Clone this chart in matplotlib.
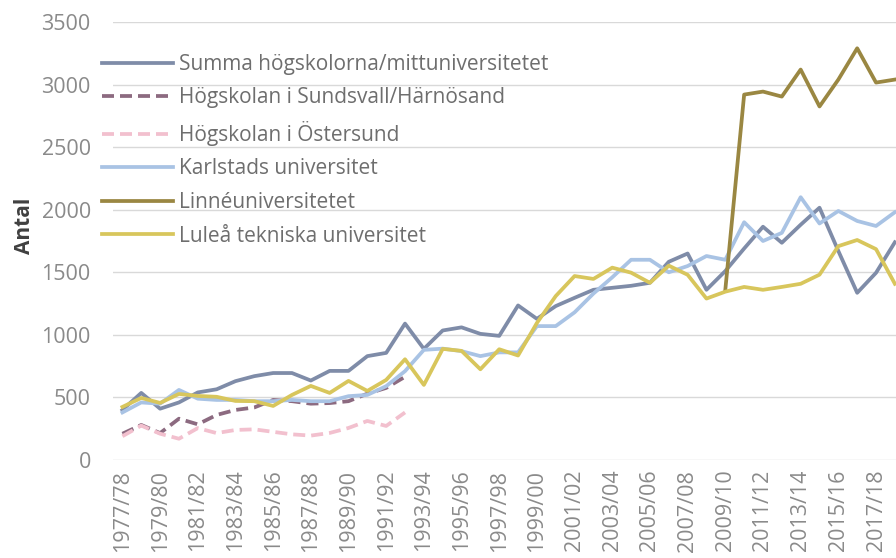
import numpy as np
import matplotlib
matplotlib.use("Agg")
import matplotlib.pyplot as plt

years = ["1977/78", "1978/79", "1979/80", "1980/81", "1981/82", "1982/83", "1983/84",
         "1984/85", "1985/86", "1986/87", "1987/88", "1988/89", "1989/90", "1990/91",
         "1991/92", "1992/93", "1993/94", "1994/95", "1995/96", "1996/97", "1997/98",
         "1998/99", "1999/00", "2000/01", "2001/02", "2002/03", "2003/04", "2004/05",
         "2005/06", "2006/07", "2007/08", "2008/09", "2009/10", "2010/11", "2011/12",
         "2012/13", "2013/14", "2014/15", "2015/16", "2016/17", "2017/18", "2018/19"]

summa = [400, 536, 410, 460, 540, 565, 630, 670, 695, 695, 635, 712, 712, 830, 856,
         1090, 888, 1035, 1060, 1008, 992, 1235, 1128, 1230, 1296, 1360, 1376, 1392,
         1416, 1584, 1650, 1360, 1510, 1690, 1864, 1736, 1880, 2016, 1670, 1336, 1496, 1740]
sundsvall = [210, 280, 215, 330, 285, 360, 400, 420, 480, 470, 450, 455, 470, 530, 576, 665]
ostersund = [190, 275, 210, 170, 255, 215, 240, 245, 225, 205, 195, 216, 256, 312, 272, 380]
karlstad = [380, 460, 450, 560, 490, 480, 480, 470, 470, 480, 470, 470, 510, 520, 590,
            710, 880, 890, 870, 830, 860, 860, 1070, 1070, 1180, 1330, 1460, 1600, 1600,
            1500, 1550, 1630, 1600, 1900, 1750, 1815, 2100, 1890, 1990, 1910, 1870, 1980]
linne_start = "2009/10"
linne = [1360, 2920, 2944, 2904, 3120, 2825, 3040, 3290, 3016, 3040]
lulea = [424, 496, 456, 528, 512, 505, 472, 470, 432, 520, 592, 536, 632, 552, 640,
         805, 600, 888, 872, 725, 885, 835, 1095, 1310, 1470, 1447, 1537, 1497, 1416,
         1553, 1480, 1290, 1345, 1383, 1360, 1383, 1408, 1481, 1709, 1758, 1685, 1408]

labels = ["Summa högskolorna/mittuniversitetet", "Högskolan i Sundsvall/Härnösand",
          "Högskolan i Östersund", "Karlstads universitet", "Linnéuniversitetet",
          "Luleå tekniska universitet"]
colors = ["#7F8CA8", "#8C6A80", "#F2C0CE", "#A9C3E4", "#9A8742", "#D8C65C"]

plt.rcParams["font.family"] = ["Open Sans", "DejaVu Sans"]

fig = plt.figure(figsize=(8.96, 5.58), dpi=100)
ax = fig.add_axes([113 / 896, 1 - 460 / 558, 1 - 113 / 896, (460 - 22) / 558])

x = np.arange(len(years))
lw = 2.7
dash = (0, (3.2, 1.6))
ax.plot(x[:len(summa)], summa, color=colors[0], lw=lw, label=labels[0])
ax.plot(x[:len(sundsvall)], sundsvall, color=colors[1], lw=lw, ls=dash, label=labels[1])
ax.plot(x[:len(ostersund)], ostersund, color=colors[2], lw=lw, ls=dash, label=labels[2])
ax.plot(x[:len(karlstad)], karlstad, color=colors[3], lw=lw, label=labels[3])
i0 = years.index(linne_start)
ax.plot(x[i0:i0 + len(linne)], linne, color=colors[4], lw=lw, label=labels[4])
ax.plot(x[:len(lulea)], lulea, color=colors[5], lw=lw, label=labels[5])

ax.set_xlim(-0.5, 41.06)
ax.set_ylim(0, 3500)
ax.set_yticks(np.arange(0, 3501, 500))
ax.set_xticks(x[::2])
ax.set_xticklabels(years[::2], rotation=90)
ax.grid(axis="y", color="#D9D9D9", lw=1)
ax.set_axisbelow(True)
for s in ax.spines.values():
    s.set_visible(False)
ax.tick_params(axis="both", length=0, colors="#8A8A8A", labelsize=15.5)
ax.tick_params(axis="y", pad=16)
ax.tick_params(axis="x", pad=7)
ax.set_ylabel("Antal", fontsize=15, fontweight="bold", color="#404040")
ax.yaxis.set_label_coords(-0.1, 0.535)

leg = fig.legend(loc="upper left", bbox_to_anchor=(102 / 896, 1 - 54 / 558),
                 frameon=False, fontsize=15, handlelength=3.4, handletextpad=0.3,
                 labelspacing=0.6, borderpad=0, borderaxespad=0)
for t in leg.get_texts():
    t.set_color("#6E6E6E")

fig.savefig("out.png", dpi=100)
